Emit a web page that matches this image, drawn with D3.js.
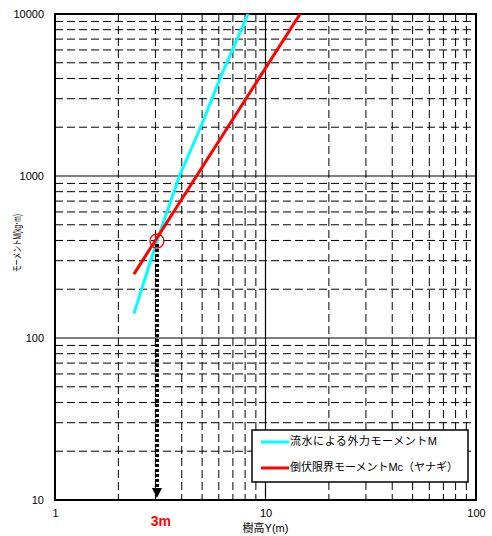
<!DOCTYPE html>
<html>
<head>
<meta charset="utf-8">
<script src="https://cdn.jsdelivr.net/npm/d3@7"></script>
<style>
  body { margin: 0; background: #fff; }
  text { font-family: "Liberation Sans", "Noto Sans CJK JP", sans-serif; fill: #000; }
</style>
</head>
<body>
<div id="chart"></div>
<script>
// chart data
var xTicks = [1, 10, 100];
var yTicks = [10, 100, 1000, 10000];

// 流水による外力モーメントM
var flowY = [2.37, 3.05, 3.9, 4.92, 6.08, 8.26];
var flowM = [141, 397, 1000, 2000, 4000, 10000];
// 倒伏限界モーメントMc（ヤナギ）
var limitY = [2.37, 14.6];
var limitM = [248, 10000];

// crossing point
var crossY = 3.05;
var crossM = 397;
var crossLabel = '3m';

var legendNames = ['流水による外力モーメントM', '倒伏限界モーメントMc（ヤナギ）'];
var legendColors = ['#00ffff', '#ff0000'];

// Setup SVG
var svgWidth = 492;
var svgHeight = 536;
var margin = { top: 14, right: 16, bottom: 36, left: 55 };
var width = svgWidth - margin.left - margin.right;
var height = svgHeight - margin.top - margin.bottom;

var svg = d3.select('#chart')
    .append('svg')
    .attr('width', svgWidth)
    .attr('height', svgHeight);
var chartGroup = svg.append('g')
    .attr('transform', `translate(${margin.left}, ${margin.top})`);

var xScale = d3.scaleLog().domain([1, 100]).range([0, width]);
var yScale = d3.scaleLog().domain([10, 10000]).range([height, 0]);

// minor grid values 2..9 per decade
var xMinor = [];
for (var d = 1; d < 100; d *= 10) {
    for (var k = 2; k <= 9; k++) xMinor.push(d * k);
}
var yMinor = [];
for (var d2 = 10; d2 < 10000; d2 *= 10) {
    for (var k2 = 2; k2 <= 9; k2++) yMinor.push(d2 * k2);
}

var grid = chartGroup.append('g');
grid.selectAll('.xminor')
    .data(xMinor)
    .enter()
    .append('line')
    .attr('x1', d => xScale(d)).attr('x2', d => xScale(d))
    .attr('y1', 0).attr('y2', height)
    .attr('stroke', '#000')
    .attr('stroke-width', 1)
    .attr('stroke-dasharray', '8,4');
grid.selectAll('.yminor')
    .data(yMinor)
    .enter()
    .append('line')
    .attr('x1', 0).attr('x2', width)
    .attr('y1', d => yScale(d)).attr('y2', d => yScale(d))
    .attr('stroke', '#000')
    .attr('stroke-width', 1)
    .attr('stroke-dasharray', '8,4');
grid.selectAll('.xmajor')
    .data(xTicks)
    .enter()
    .append('line')
    .attr('x1', d => xScale(d)).attr('x2', d => xScale(d))
    .attr('y1', 0).attr('y2', height)
    .attr('stroke', '#000')
    .attr('stroke-width', 1.2);
grid.selectAll('.ymajor')
    .data(yTicks)
    .enter()
    .append('line')
    .attr('x1', 0).attr('x2', width)
    .attr('y1', d => yScale(d)).attr('y2', d => yScale(d))
    .attr('stroke', '#000')
    .attr('stroke-width', 1.2);

// frame
chartGroup.append('rect')
    .attr('width', width)
    .attr('height', height)
    .attr('fill', 'none')
    .attr('stroke', '#000')
    .attr('stroke-width', 2);

// tick labels
var xAxis = chartGroup.append('g')
    .attr('transform', `translate(0, ${height})`)
    .call(d3.axisBottom(xScale).tickValues(xTicks).tickFormat(d3.format('d')).tickSize(0).tickPadding(9));
var yAxis = chartGroup.append('g')
    .call(d3.axisLeft(yScale).tickValues(yTicks).tickFormat(d3.format('d')).tickSize(0).tickPadding(11));
[xAxis, yAxis].forEach(function(ax) {
    ax.select('.domain').remove();
    ax.selectAll('text')
        .attr('font-size', 11)
        .style('font-family', '"Liberation Sans", sans-serif');
});

// series lines
var line = d3.line()
    .x(d => xScale(d[0]))
    .y(d => yScale(d[1]));
chartGroup.append('path')
    .datum(flowY.map((v, i) => [v, flowM[i]]))
    .attr('d', line)
    .attr('fill', 'none')
    .attr('stroke', legendColors[0])
    .attr('stroke-width', 3)
    .attr('stroke-linejoin', 'round');
chartGroup.append('path')
    .datum(limitY.map((v, i) => [v, limitM[i]]))
    .attr('d', line)
    .attr('fill', 'none')
    .attr('stroke', legendColors[1])
    .attr('stroke-width', 3);

// crossing marker + dotted drop line
var cx = xScale(crossY);
var cy = yScale(crossM);
chartGroup.append('line')
    .attr('x1', cx).attr('x2', cx)
    .attr('y1', cy + 3).attr('y2', height - 10)
    .attr('stroke', '#000')
    .attr('stroke-width', 4)
    .attr('stroke-dasharray', '3,2');
chartGroup.append('path')
    .attr('d', `M${cx - 5},${height - 12} L${cx + 5},${height - 12} L${cx},${height - 2} Z`)
    .attr('fill', '#000');
chartGroup.append('circle')
    .attr('cx', cx)
    .attr('cy', cy)
    .attr('r', 7)
    .attr('fill', 'none')
    .attr('stroke', '#ff0000')
    .attr('stroke-width', 1.3);
chartGroup.append('text')
    .attr('x', cx + 4)
    .attr('y', height + 26)
    .attr('text-anchor', 'middle')
    .attr('font-size', 14)
    .attr('font-weight', 'bold')
    .style('fill', '#ff0000')
    .style('font-family', '"Liberation Sans Narrow", "Liberation Sans", sans-serif')
    .text(crossLabel);

// axis titles
chartGroup.append('text')
    .attr('x', xScale(10))
    .attr('y', height + 32)
    .attr('text-anchor', 'middle')
    .attr('font-size', 11)
    .text('樹高Y(m)');
chartGroup.append('text')
    .attr('transform', `translate(${18 - margin.left}, ${243 - margin.top}) rotate(-90)`)
    .attr('text-anchor', 'middle')
    .attr('dominant-baseline', 'middle')
    .attr('font-size', 10)
    .attr('textLength', 58)
    .attr('lengthAdjust', 'spacingAndGlyphs')
    .text('モーメントM(kg･m)');

// legend
var legend = svg.append('g');
legend.append('rect')
    .attr('x', 252).attr('y', 430)
    .attr('width', 216).attr('height', 52)
    .attr('fill', '#fff')
    .attr('stroke', '#000')
    .attr('stroke-width', 1.5);
var legendWidths = [147, 168];
legendNames.forEach(function(name, i) {
    var ly = 442 + i * 26;
    legend.append('line')
        .attr('x1', 261).attr('x2', 289)
        .attr('y1', ly).attr('y2', ly)
        .attr('stroke', legendColors[i])
        .attr('stroke-width', 3);
    legend.append('text')
        .attr('x', 290)
        .attr('y', ly)
        .attr('dominant-baseline', 'middle')
        .attr('font-size', 11)
        .attr('textLength', legendWidths[i])
        .attr('lengthAdjust', 'spacing')
        .text(name);
});
</script>
</body>
</html>
